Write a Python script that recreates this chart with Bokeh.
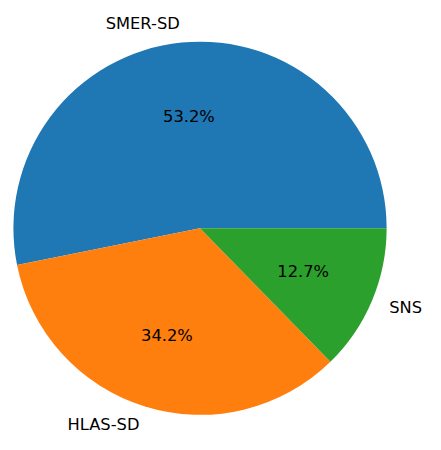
import math
from bokeh.plotting import figure
from bokeh.models import Range1d, ColumnDataSource
from bokeh.core.properties import value
from bokeh.embed import file_html
from bokeh.resources import INLINE

labels = ["SMER-SD", "HLAS-SD", "SNS"]
shares = [53.2, 34.2, 12.7]
colors = ["#1f77b4", "#ff7f0e", "#2ca02c"]

W, H = 425, 434
K = 1.045  # data units per screen pixel
CX, CY, R = 207, -238, 195

p = figure(width=W, height=H, output_backend="svg", toolbar_location=None,
           x_range=Range1d(-1.5, -1.5 + W * K), y_range=Range1d(-H * K, 0),
           min_border=0, outline_line_color=None)
p.axis.visible = False
p.grid.visible = False
p.background_fill_color = "white"

total = sum(shares)
starts, ends, mids = [], [], []
acc = 0.0
for s in shares:
    a0 = acc / total * 2 * math.pi
    acc += s
    a1 = acc / total * 2 * math.pi
    starts.append(a0)
    ends.append(a1)
    mids.append((a0 + a1) / 2)

src = ColumnDataSource(dict(x=[CX] * 3, y=[CY] * 3, start=starts, end=ends, color=colors))
p.wedge(x="x", y="y", radius=R, start_angle="start", end_angle="end",
        direction="anticlock", fill_color="color", line_color=None, source=src)

lx = [CX + 1.1 * R * math.cos(m) for m in mids]
ly = [CY + 1.1 * R * math.sin(m) for m in mids]
align = ["right" if math.cos(m) < 0 else "left" for m in mids]
px = [CX + 0.6 * R * math.cos(m) for m in mids]
py = [CY + 0.6 * R * math.sin(m) for m in mids]
pct = ["%.1f%%" % s for s in shares]

fs = "%.1fpx" % (17 / K)
lsrc = ColumnDataSource(dict(x=lx, y=ly, text=labels, align=align))
p.text(x="x", y="y", text="text", text_align="align", text_baseline="middle",
       text_font=value("DejaVu Sans"), text_font_size=fs, text_color="black", source=lsrc)
psrc = ColumnDataSource(dict(x=px, y=py, text=pct))
p.text(x="x", y="y", text="text", text_align="center", text_baseline="middle",
       text_font=value("DejaVu Sans"), text_font_size=fs, text_color="black", source=psrc)

open("out.html", "w").write(file_html(p, INLINE))
